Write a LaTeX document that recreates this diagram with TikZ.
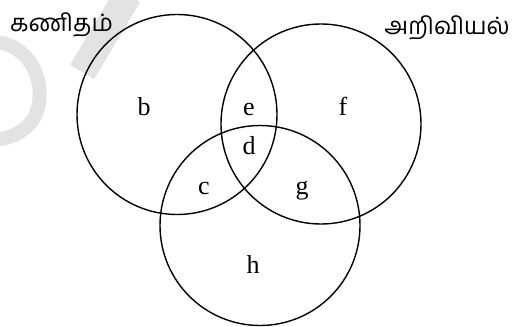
\documentclass[tikz,border=0pt]{standalone}
\usepackage{fontspec}
\setmainfont{Liberation Serif}
\newfontfamily\tamilfont[Script=Tamil]{Hind Madurai}
\begin{document}
\begin{tikzpicture}[x=1pt,y=-1pt,
  setcircle/.style={circle,draw,line width=1.4pt,minimum size=200pt,inner sep=0pt},
  region/.style={font=\fontsize{26}{28}\selectfont,anchor=base,inner sep=0pt},
  setlabel/.style={font=\tamilfont\fontsize{24}{26}\selectfont,inner sep=0pt},
  wmark/.style={draw=black!11,line cap=round}]
\useasboundingbox (0,0) rectangle (513,326);
% faint watermark
\draw[wmark,line width=14pt] (-5,42) .. controls (30,45) and (45,80) .. (38,108) .. controls (32,130) and (12,138) .. (-5,140);
\draw[wmark,line width=28pt,line cap=butt] (128,-5) -- (82,72);
% sets
\node[setcircle] (M) at (177,114.5) {};
\node[setcircle] (S) at (321,124) {};
\node[setcircle] (T) at (260,225.5) {};
% set labels
\node[setlabel,anchor=base west] (lm) at (10,32) {கணிதம்};
\node[setlabel,anchor=base east] (ls) at (510,35) {அறிவியல்};
% region labels
\node[region] (b) at (144,115) {b};
\node[region] (e) at (249,115) {e};
\node[region] (f) at (343,115) {f};
\node[region] (d) at (249,154) {d};
\node[region] (c) at (204,194) {c};
\node[region] (g) at (302,194) {g};
\node[region] (h) at (253,273) {h};
\end{tikzpicture}
\end{document}
